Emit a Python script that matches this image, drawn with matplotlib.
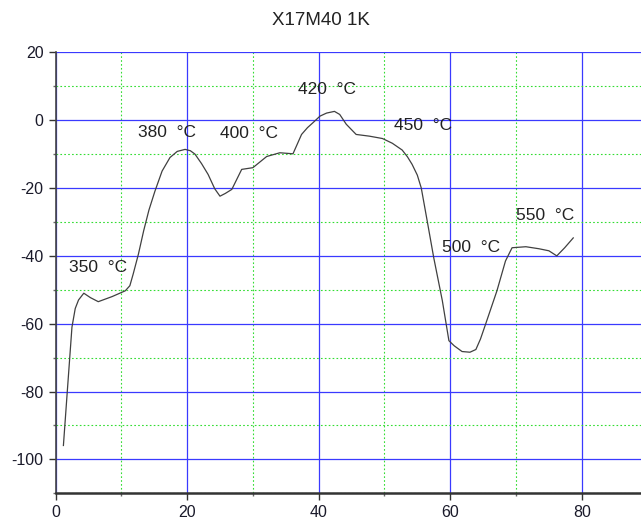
import numpy as np
import matplotlib.pyplot as plt
from matplotlib.ticker import MultipleLocator

plt.rcParams['font.family'] = ['Liberation Sans', 'DejaVu Sans']
plt.rcParams['axes.unicode_minus'] = False

# curve
x_vals = [1.2, 1.8, 2.5, 3.0, 3.5, 4.3, 5.3, 6.5, 8.6, 10.6, 11.3, 11.8, 12.6,
          13.4, 14.2, 15.1, 16.2, 17.4, 18.5, 19.7, 20.5, 21.2, 22.2, 23.2,
          24.2, 25.0, 25.8, 26.8, 28.3, 30.0, 32.1, 34.1, 36.1, 37.4, 38.3,
          39.1, 40.2, 41.2, 42.4, 43.2, 44.2, 45.7, 47.7, 49.7, 51.2, 52.7,
          53.5, 54.2, 55.0, 55.6, 56.5, 57.5, 58.8, 59.8, 60.6, 61.8, 63.0,
          63.9, 64.6, 65.4, 67.1, 68.4, 69.4, 71.5, 73.5, 75.0, 76.2, 77.4,
          78.7]
y_vals = [-95.9, -79.7, -61.0, -55.5, -53.0, -51.0, -52.3, -53.5, -52.0,
          -50.3, -48.8, -45.4, -39.5, -32.6, -26.5, -21.0, -15.0, -11.0, -9.2,
          -8.6, -9.0, -10.0, -12.8, -16.0, -20.2, -22.4, -21.6, -20.4, -14.5,
          -14.0, -10.7, -9.6, -9.9, -4.2, -2.2, -0.8, 1.2, 2.1, 2.6, 1.7,
          -1.2, -4.2, -4.7, -5.4, -6.8, -8.8, -10.8, -13.0, -16.2, -20.0,
          -29.7, -40.6, -53.2, -65.0, -66.5, -68.2, -68.4, -67.6, -64.5,
          -60.0, -50.3, -41.5, -37.6, -37.3, -37.9, -38.5, -40.0, -37.6,
          -34.7]

# temperature annotations
labels = ['350 °C', '380 °C', '400 °C', '420 °C', '450 °C', '500 °C', '550 °C']
label_x = [2.0, 12.6, 25.0, 36.8, 51.5, 58.8, 70.0]
label_y = [-43.5, -3.5, -4.0, 9.0, -1.5, -37.5, -28.0]

fig = plt.figure(figsize=(6.41, 5.2), dpi=100)
ax = fig.add_axes([0.0866, 0.0513, 0.9134, 0.848])

ax.plot(x_vals, y_vals, color='#404040', lw=0.9)

for t, lx, ly in zip(labels, label_x, label_y):
    ax.text(lx, ly, t.replace(' °', '  °'), fontsize=12.5, color='#222222',
            va='center', ha='left')

ax.set_xlim(0, 89)
ax.set_ylim(-110, 20)
ax.xaxis.set_major_locator(MultipleLocator(20))
ax.xaxis.set_minor_locator(MultipleLocator(10))
ax.yaxis.set_major_locator(MultipleLocator(20))
ax.yaxis.set_minor_locator(MultipleLocator(10))

ax.grid(which='major', color='#3a3aff', lw=0.9)
ax.grid(which='minor', color='#33dd33', lw=0.8, ls=(0, (1.5, 2)))
ax.set_axisbelow(True)

for s in ['top', 'right']:
    ax.spines[s].set_visible(False)
ax.spines['left'].set_color('#444444')
ax.spines['left'].set_linewidth(1.2)
ax.spines['bottom'].set_color('#333333')
ax.spines['bottom'].set_linewidth(1.8)

ax.tick_params(which='major', length=5, width=1, color='#333333',
               labelsize=11.5, labelcolor='#1a1a2a', direction='out')
ax.tick_params(which='minor', length=2, width=1, color='#666666', direction='out')

fig.text(0.5, 0.96, 'X17M40 1K', ha='center', va='center', fontsize=13.5,
         color='#222222')

fig.savefig('out.png', dpi=100)
